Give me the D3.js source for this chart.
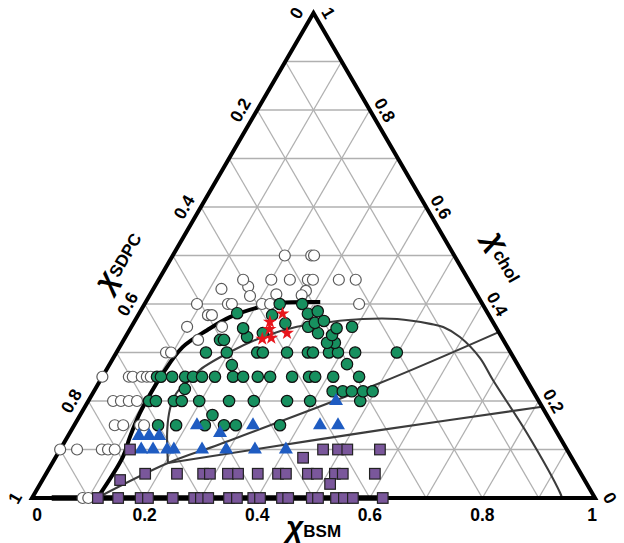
<!DOCTYPE html>
<html><head><meta charset="utf-8">
<script src="https://cdn.jsdelivr.net/npm/d3@7"></script>
<style>body{margin:0;background:#fff}svg{display:block}</style>
</head><body>
<script>
// Ternary data: each point is [X_BSM, X_chol]; X_SDPC = 1 - X_BSM - X_chol
const tickValues = [0, 0.2, 0.4, 0.6, 0.8, 1];
const tickLabels = ["0", "0.2", "0.4", "0.6", "0.8", "1"];
const gridValues = [0.1, 0.2, 0.3, 0.4, 0.5, 0.6, 0.7, 0.8, 0.9];

const openPts = [
  [0.09,0],[0.10,0],
  [0.0,0.1],[0.03,0.1],[0.074,0.1],[0.085,0.1],[0.097,0.1],
  [0.072,0.15],[0.087,0.15],[0.117,0.15],[0.124,0.15],
  [0.044,0.2],[0.058,0.2],[0.072,0.2],[0.0865,0.2],
  [0.0,0.25],[0.047,0.25],[0.054,0.25],[0.07,0.25],[0.079,0.25],[0.086,0.25],
  [0.088,0.3],[0.097,0.3],[0.132,0.326],
  [0.099,0.353],[0.161,0.353],[0.124,0.377],[0.131,0.377],
  [0.093,0.4],[0.148,0.4],[0.155,0.4],[0.2085,0.4],[0.223,0.4],[0.381,0.4],
  [0.121,0.431],[0.166,0.436],[0.179,0.4165],[0.224,0.42],[0.273,0.427],[0.27,0.418],
  [0.15,0.45],[0.2,0.45],[0.233,0.45],[0.265,0.45],[0.274,0.45],[0.32,0.45],[0.35,0.45],
  [0.199,0.5],[0.246,0.5],[0.251,0.5]
];
const greenPts = [
  [0.149,0.15],[0.181,0.15],[0.232,0.15],[0.266,0.15],[0.287,0.15],[0.3655,0.15],[0.235,0.171],
  [0.108,0.2],[0.12,0.2],[0.152,0.2],[0.166,0.2],[0.197,0.2],[0.25,0.2],[0.294,0.2],[0.353,0.2],[0.394,0.2],[0.483,0.2],
  [0.424,0.22],[0.442,0.22],[0.458,0.22],[0.478,0.22],[0.495,0.22],[0.159,0.225],
  [0.097,0.25],[0.104,0.25],[0.124,0.25],[0.147,0.25],[0.161,0.25],[0.177,0.25],[0.2,0.25],[0.232,0.25],
  [0.25,0.25],[0.276,0.25],[0.298,0.25],[0.337,0.25],[0.367,0.25],[0.378,0.25],[0.41,0.25],[0.456,0.25],
  [0.218,0.274],[0.4215,0.276],
  [0.159,0.3],[0.196,0.3],[0.25,0.3],[0.26,0.3],[0.303,0.3],[0.34,0.3],[0.349,0.3],[0.3775,0.3],[0.3935,0.3],[0.424,0.3],[0.498,0.3],
  [0.378,0.32],[0.364,0.32],[0.365,0.336],[0.338,0.34],[0.171,0.326],[0.178,0.326],[0.216,0.332],[0.24,0.34],
  [0.2,0.35],[0.27,0.36],[0.314,0.353],[0.322,0.361],[0.336,0.365],[0.366,0.35],[0.392,0.353],
  [0.174,0.381],[0.238,0.377],[0.24,0.40],[0.28,0.40],[0.30,0.38],[0.315,0.385]
];
const starPts = [[0.255,0.38],[0.241,0.363],[0.248,0.348],[0.283,0.34],[0.245,0.328],[0.26,0.33]];
const trianglePts = [
  [0.144,0.1],[0.165,0.1],[0.19,0.1],[0.202,0.1],[0.252,0.1],[0.295,0.1],[0.346,0.1],[0.401,0.1],
  [0.126,0.128],[0.144,0.128],[0.162,0.128],[0.267,0.134],
  [0.218,0.15],[0.3175,0.15],[0.4365,0.15],[0.4685,0.15],[0.44,0.2]
];
const squarePts = [
  [0.117,0],[0.153,0],[0.193,0],[0.206,0],[0.25,0],[0.288,0],[0.3,0],[0.313,0],[0.35,0],[0.364,0],
  [0.393,0],[0.405,0],[0.444,0],[0.455,0],[0.497,0],[0.508,0],[0.54,0],[0.554,0],[0.57,0],[0.623,0],
  [0.176,0.05],[0.2325,0.05],[0.279,0.05],[0.291,0.05],[0.323,0.05],[0.341,0.05],[0.376,0.05],
  [0.412,0.05],[0.426,0.05],[0.465,0.05],[0.481,0.05],[0.513,0.05],[0.527,0.05],[0.584,0.05],
  [0.138,0.037],[0.515,0.029],[0.44,0.083],
  [0.124,0.1],[0.467,0.1],[0.4935,0.1],[0.51,0.1],[0.568,0.1]
];
const boundaryCurve = [[0.116,0],[0.119,0.085],[0.111,0.126],[0.104,0.175],[0.103,0.202],[0.104,0.258],
  [0.112,0.311],[0.138,0.346],[0.165,0.373],[0.208,0.394],[0.239,0.402],[0.31,0.404]];
const arcCurve = [[0.2055,0.072],[0.173,0.134],[0.156,0.175],[0.149,0.202],[0.150,0.227],[0.159,0.243],
  [0.166,0.264],[0.201,0.301],[0.244,0.332],[0.294,0.353],[0.348,0.363],[0.403,0.369],[0.464,0.369],
  [0.528,0.359],[0.554,0.3526],[0.594,0.332],[0.651,0.289],[0.697,0.2433],[0.812,0.134],[0.933,0.0103],[0.9414,0]];
const tieUpper = [[0.1155,0],[0.2055,0.072],[0.278,0.111],[0.4995,0.237],[0.658,0.342]];
const tieLower = [[0.2055,0.072],[0.257,0.0825],[0.548,0.14],[0.812,0.188]];
const baseSegment = [[0.035,0],[0.625,0]];

const W = 624, H = 543;
const xs = d3.scaleLinear().domain([0, 1]).range([32, 595]);
const ys = d3.scaleLinear().domain([0, 1]).range([498, 13]);
const P = d => [xs(d[0] + d[1] / 2), ys(d[1])];

const svg = d3.select("body").append("svg").attr("width", W).attr("height", H);
const font = "'Liberation Sans', Arial, sans-serif";

// grid
const grid = svg.append("g").attr("stroke", "#b0b0b0").attr("stroke-width", 1.3).attr("fill", "none");
gridValues.forEach(v => {
  grid.append("line").attr("x1", P([0, v])[0]).attr("y1", P([0, v])[1]).attr("x2", P([1 - v, v])[0]).attr("y2", P([1 - v, v])[1]);
  grid.append("line").attr("x1", P([v, 0])[0]).attr("y1", P([v, 0])[1]).attr("x2", P([v, 1 - v])[0]).attr("y2", P([v, 1 - v])[1]);
  grid.append("line").attr("x1", P([1 - v, 0])[0]).attr("y1", P([1 - v, 0])[1]).attr("x2", P([0, 1 - v])[0]).attr("y2", P([0, 1 - v])[1]);
});

const line = d3.line().x(d => P(d)[0]).y(d => P(d)[1]);
const smooth = d3.line().x(d => P(d)[0]).y(d => P(d)[1]).curve(d3.curveCatmullRom.alpha(0.5));

// curves
[arcCurve, tieUpper, tieLower].forEach(c =>
  svg.append("path").attr("d", smooth(c)).attr("fill", "none").attr("stroke", "#3c3c3c").attr("stroke-width", 2.1));

// triangle frame
svg.append("path").attr("d", line([[0, 0], [1, 0], [0, 1]]) + "Z").attr("fill", "none")
  .attr("stroke", "#000").attr("stroke-width", 4).attr("stroke-linejoin", "miter");
svg.append("path").attr("d", line(baseSegment)).attr("stroke", "#000").attr("stroke-width", 5.5);
svg.append("path").attr("d", smooth(boundaryCurve)).attr("fill", "none").attr("stroke", "#000").attr("stroke-width", 4);

// points
svg.append("g").selectAll("circle").data(openPts).join("circle")
  .attr("cx", d => P(d)[0]).attr("cy", d => P(d)[1]).attr("r", 5.5)
  .attr("fill", "#fff").attr("stroke", "#5a5a5a").attr("stroke-width", 1.2);
svg.append("g").selectAll("circle").data(greenPts).join("circle")
  .attr("cx", d => P(d)[0]).attr("cy", d => P(d)[1]).attr("r", 5.7)
  .attr("fill", "#17905f").attr("stroke", "#111").attr("stroke-width", 1.2);
svg.append("g").selectAll("path").data(starPts).join("path")
  .attr("transform", d => `translate(${P(d)})`).attr("d", d3.symbol(d3.symbolStar, 60)())
  .attr("fill", "#e8161c");
svg.append("g").selectAll("path").data(trianglePts).join("path")
  .attr("transform", d => `translate(${P(d)})`).attr("d", d3.symbol(d3.symbolTriangle, 85)())
  .attr("fill", "#1f5cc2");
svg.append("g").selectAll("rect").data(squarePts).join("rect")
  .attr("x", d => P(d)[0] - 5.3).attr("y", d => P(d)[1] - 5.3).attr("width", 10.6).attr("height", 10.6)
  .attr("fill", "#7a579b").attr("stroke", "#222").attr("stroke-width", 1.2);

// tick labels
const tl = svg.append("g").attr("font-family", font).attr("font-weight", "bold").attr("font-size", 17.5)
  .attr("text-anchor", "middle").attr("fill", "#000");
tickValues.forEach((v, i) => {
  tl.append("text").attr("x", xs(v) + (v === 0 ? 5 : v === 1 ? -3 : 0)).attr("y", 521).text(tickLabels[i]);
  const lp = P([0, 1 - v]);
  tl.append("text").attr("transform", `translate(${lp[0] - 17},${lp[1]}) rotate(-60)`).attr("dy", "0.35em").text(tickLabels[i]);
  const rp = P([1 - v, v]);
  tl.append("text").attr("transform", `translate(${rp[0] + 15},${rp[1]}) rotate(60)`).attr("dy", "0.35em").text(tickLabels[i]);
});

// axis titles
function title(g, sub) {
  const t = g.append("text").attr("font-family", font).attr("text-anchor", "middle").attr("fill", "#000");
  t.append("tspan").attr("font-size", 30).attr("font-style", "italic").attr("font-weight", "bold").text("χ");
  t.append("tspan").attr("font-size", 17).attr("font-weight", "bold").text(sub);
  return t;
}
title(svg.append("g").attr("transform", `translate(${xs(0.5)},537)`), "BSM");
title(svg.append("g").attr("transform", `translate(120,262) rotate(-60)`), "SDPC").attr("y", 7);
title(svg.append("g").attr("transform", `translate(503,258) rotate(60)`), "chol").attr("y", 7);
</script>
</body></html>
